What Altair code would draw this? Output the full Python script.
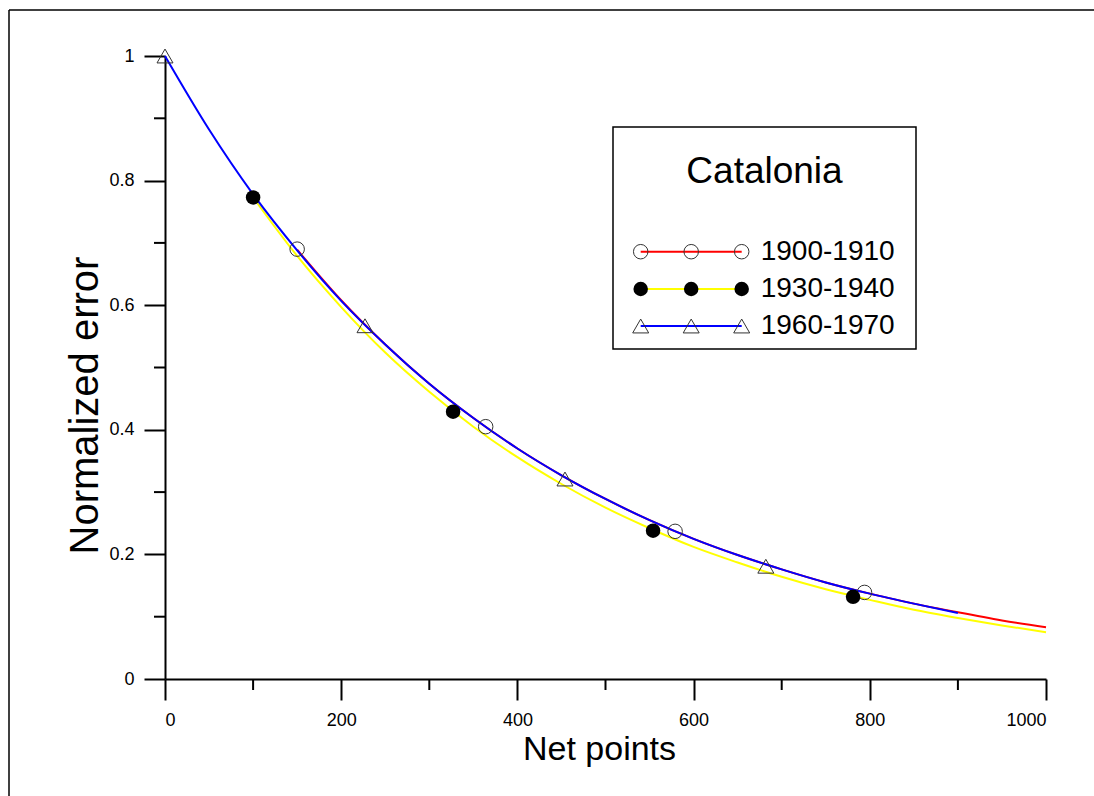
import altair as alt
import pandas as pd

FONT = "Liberation Sans"

SERIES = ["1900-1910", "1930-1940", "1960-1970"]
LINE_COLORS = ["#ff0000", "#ffff00", "#0000ff"]

# fitted curves
curve_x_1900 = [150, 200, 250, 300, 350, 400, 450, 500, 550, 600, 650, 700, 750, 800, 850, 900, 950, 1000]
curve_y_1900 = [0.689, 0.608, 0.537, 0.474, 0.419, 0.370, 0.327, 0.289, 0.255, 0.225, 0.199, 0.176, 0.155, 0.137, 0.121, 0.107, 0.094, 0.083]

curve_x_1930 = [100, 150, 200, 250, 300, 350, 400, 450, 500, 550, 600, 650, 700, 750, 800, 850, 900, 950, 1000]
curve_y_1930 = [0.773, 0.679, 0.597, 0.524, 0.461, 0.405, 0.356, 0.313, 0.275, 0.242, 0.212, 0.187, 0.164, 0.144, 0.127, 0.111, 0.098, 0.086, 0.075]

curve_x_1960 = [0, 50, 100, 150, 200, 250, 300, 350, 400, 450, 500, 550, 600, 650, 700, 750, 800, 850, 900]
curve_y_1960 = [1.000, 0.882, 0.778, 0.688, 0.607, 0.537, 0.474, 0.419, 0.370, 0.327, 0.289, 0.255, 0.225, 0.199, 0.176, 0.155, 0.137, 0.121, 0.106]

# measured points
mark_x_1900 = [150, 364, 579, 794]
mark_y_1900 = [0.690, 0.405, 0.237, 0.139]
mark_x_1930 = [100, 327, 554, 781]
mark_y_1930 = [0.773, 0.429, 0.238, 0.132]
mark_x_1960 = [0, 227, 454, 682]
mark_y_1960 = [1.000, 0.567, 0.321, 0.181]

# axis ticks
x_major = [0, 200, 400, 600, 800, 1000]
x_minor = [100, 300, 500, 700, 900]
y_major = [0, 0.2, 0.4, 0.6, 0.8, 1]
y_minor = [0.1, 0.3, 0.5, 0.7, 0.9]

W, H = 881, 623

xscale = alt.Scale(domain=[0, 1000], nice=False, zero=False)
yscale = alt.Scale(domain=[0, 1], nice=False, zero=False)

X = alt.X(
    "x:Q", scale=xscale,
    axis=alt.Axis(
        values=x_major, format="d", grid=False,
        domainColor="black", domainWidth=2, tickColor="black", tickWidth=2, tickSize=21,
        labelFont=FONT, labelFontSize=18, labelColor="black", labelPadding=11,
        title="Net points", titleFont=FONT, titleFontSize=34, titleFontWeight="normal",
        titleColor="black", titleX=434, titleY=80, titleAlign="center", titleBaseline="alphabetic",
    ),
)
Y = alt.Y(
    "y:Q", scale=yscale,
    axis=alt.Axis(
        values=y_major, labelExpr="format(datum.value, '~g')", grid=False,
        domainColor="black", domainWidth=2, tickColor="black", tickWidth=2, tickSize=21,
        labelFont=FONT, labelFontSize=18, labelColor="black", labelPadding=10,
        title="Normalized error", titleFont=FONT, titleFontSize=40, titleFontWeight="normal",
        titleColor="black", titleAngle=270, titleX=-80, titleY=349, titleAlign="center",
        titleBaseline="middle",
    ),
)

one = pd.DataFrame({"k": [0]})

layers = []

# outer frame (top and left edges; the rest lies outside the picture)
layers.append(
    alt.Chart(one).mark_rule(color="black", strokeWidth=1.5).encode(
        x=alt.value(-156), x2=alt.value(960), y=alt.value(-46)
    )
)
layers.append(
    alt.Chart(one).mark_rule(color="black", strokeWidth=1.5).encode(
        x=alt.value(-156), y=alt.value(-46), y2=alt.value(760)
    )
)

curves = {
    "1900-1910": (curve_x_1900, curve_y_1900),
    "1930-1940": (curve_x_1930, curve_y_1930),
    "1960-1970": (curve_x_1960, curve_y_1960),
}
colors = dict(zip(SERIES, LINE_COLORS))

for s in ["1930-1940", "1900-1910", "1960-1970"]:
    cx, cy = curves[s]
    layers.append(
        alt.Chart(pd.DataFrame({"x": cx, "y": cy})).mark_line(
            color=colors[s], strokeWidth=2, interpolate="monotone"
        ).encode(x=X, y=Y)
    )

# minor ticks
layers.append(
    alt.Chart(pd.DataFrame({"x": x_minor})).mark_rule(color="black", strokeWidth=2).encode(
        x=X, y=alt.value(H), y2=alt.value(H + 11)
    )
)
layers.append(
    alt.Chart(pd.DataFrame({"y": y_minor})).mark_rule(color="black", strokeWidth=2).encode(
        y=Y, x=alt.value(-11), x2=alt.value(0)
    )
)

open_circle = dict(shape="circle", filled=False, color="#333333", size=210, strokeWidth=1, opacity=1)
filled_circle = dict(shape="circle", filled=True, color="black", size=210, opacity=1, strokeWidth=0)
triangle = dict(shape="triangle-up", filled=False, color="#333333", size=256, strokeWidth=1, opacity=1)
styles = {"1900-1910": open_circle, "1930-1940": filled_circle, "1960-1970": triangle}

marks = {
    "1900-1910": (mark_x_1900, mark_y_1900),
    "1930-1940": (mark_x_1930, mark_y_1930),
    "1960-1970": (mark_x_1960, mark_y_1960),
}
for s in SERIES:
    mx, my = marks[s]
    layers.append(
        alt.Chart(pd.DataFrame({"x": mx, "y": my})).mark_point(**styles[s]).encode(x=X, y=Y)
    )

# legend
LX0, LX1, LY0, LY1 = 448, 751, 71, 293
layers.append(
    alt.Chart(one).mark_rect(fill="white", stroke="black", strokeWidth=1.5).encode(
        x=alt.value(LX0), x2=alt.value(LX1), y=alt.value(LY0), y2=alt.value(LY1)
    )
)
layers.append(
    alt.Chart(one).mark_text(
        text="Catalonia", font=FONT, fontSize=37, align="center", baseline="alphabetic", color="black"
    ).encode(x=alt.value(599.5), y=alt.value(126.7))
)
row_y = [195.7, 233, 270]
sym_x = [475.7, 526.2, 576.7]
for s, ry in zip(SERIES, row_y):
    layers.append(
        alt.Chart(one).mark_rule(color=colors[s], strokeWidth=2).encode(
            x=alt.value(sym_x[0]), x2=alt.value(sym_x[-1]), y=alt.value(ry)
        )
    )
    for sx in sym_x:
        layers.append(
            alt.Chart(one).mark_point(**styles[s]).encode(x=alt.value(sx), y=alt.value(ry))
        )
    layers.append(
        alt.Chart(one).mark_text(
            text=s, font=FONT, fontSize=28, align="left", baseline="middle", color="black"
        ).encode(x=alt.value(595.7), y=alt.value(ry))
    )

chart = alt.layer(*layers).properties(
    width=W, height=H,
    padding={"left": 165, "top": 56, "right": 48, "bottom": 117},
    autosize=alt.AutoSizeParams(type="none"),
    background="white",
).configure_view(strokeWidth=0)

chart.save("out.html", embed_options={"renderer": "svg", "actions": False})
